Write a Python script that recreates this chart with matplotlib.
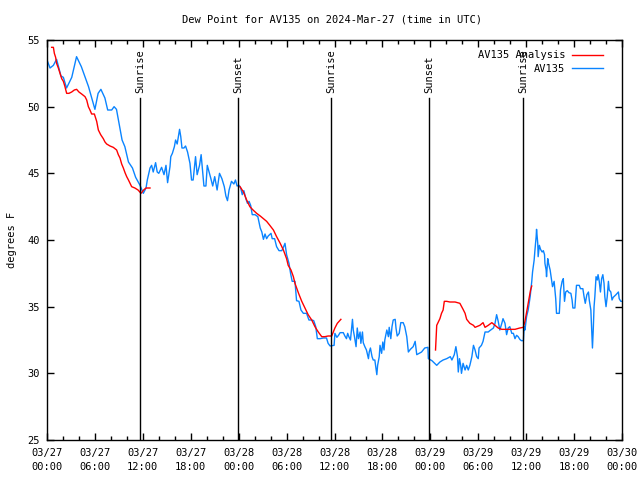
import numpy as np
import pandas as pd
import matplotlib
matplotlib.use('Agg')
import matplotlib.pyplot as plt
import matplotlib.dates as mdates

plt.rcParams['font.family'] = ['DejaVu Sans Mono']

# --- data (hours after 2024-03-27 00:00 UTC, dew point in F) ---
start = pd.Timestamp('2024-03-27 00:00')

obs_hours = [0.0, 0.38, 0.8, 1.2, 1.75, 2.05, 2.45, 3.1, 3.7, 4.3, 4.75, 5.2, 5.6, 6.0, 6.4, 6.75,
             7.25, 7.6, 8.1, 8.4, 8.7, 9.0, 9.4, 9.75, 10.2, 10.7, 11.1, 11.65, 12.06, 12.4, 12.56,
             12.9, 13.1, 13.3, 13.6, 13.8, 14.0, 14.35, 14.65, 14.9, 15.1, 15.4, 15.5, 15.7, 15.95,
             16.1, 16.3, 16.6, 16.75, 16.9, 17.15, 17.35, 17.6, 17.9, 18.1, 18.3, 18.6, 18.8, 19.1,
             19.3, 19.5, 19.65, 19.9, 20.07, 20.3, 20.5, 20.75, 21.0, 21.3, 21.6, 21.9, 22.2, 22.4,
             22.6, 22.8, 23.1, 23.4, 23.6, 23.8, 24.05, 24.25, 24.45, 24.65, 24.9, 25.1, 25.3, 25.5,
             25.7, 26.05, 26.4, 26.7, 26.9, 27.1, 27.3, 27.5, 27.7, 28.05, 28.2, 28.5, 28.75, 29.05,
             29.4, 29.6, 29.8, 30.0, 30.3, 30.5, 30.7, 31.05, 31.25, 31.55, 31.8, 32.1, 32.5, 32.8,
             33.15, 33.4, 33.65, 33.85, 34.2, 34.6, 35.0, 35.2, 35.45, 35.95, 36.05, 36.3, 36.5,
             36.7, 37.1, 37.3, 37.5, 37.65, 37.8, 38.0, 38.25, 38.35, 38.5, 38.7, 38.85, 39.0, 39.2,
             39.3, 39.5, 39.6, 39.8, 40.0, 40.25, 40.35, 40.5, 40.7, 40.85, 41.05, 41.3, 41.4, 41.6,
             41.7, 41.9, 42.05, 42.2, 42.3, 42.55, 42.75, 42.85, 43.05, 43.2, 43.35, 43.6, 43.7,
             43.85, 44.1, 44.3, 44.6, 44.8, 45.05, 45.25, 45.5, 45.85, 46.1, 46.3, 46.6, 46.9, 47.3,
             47.7, 47.75, 48.2, 48.8, 49.2, 49.6, 50.05, 50.5, 50.7, 51.0, 51.2, 51.4, 51.5, 51.65,
             51.8, 51.9, 52.1, 52.35, 52.55, 52.75, 52.95, 53.2, 53.4, 53.6, 53.8, 54.0, 54.1, 54.4,
             54.6, 54.85, 55.25, 55.45, 55.9, 56.1, 56.3, 56.5, 56.7, 56.95, 57.1, 57.35, 57.55,
             57.75, 57.95, 58.2, 58.4, 58.6, 58.8, 59.0, 59.2, 59.4, 59.65, 59.75, 59.85, 60.05,
             60.25, 60.5, 60.7, 60.8, 61.0, 61.1, 61.25, 61.3, 61.45, 61.5, 61.65, 61.8, 62.0, 62.15,
             62.3, 62.35, 62.5, 62.55, 62.7, 62.8, 63.0, 63.2, 63.3, 63.5, 63.7, 63.8, 64.15, 64.3,
             64.5, 64.65, 64.8, 64.95, 65.15, 65.35, 65.6, 65.75, 65.85, 66.1, 66.3, 66.65, 66.8,
             67.1, 67.25, 67.4, 67.6, 67.8, 67.9, 68.1, 68.2, 68.3, 68.4, 68.5, 68.6, 68.75, 68.9,
             69.0, 69.15, 69.3, 69.45, 69.6, 69.75, 69.85, 70.0, 70.15, 70.3, 70.4, 70.6, 70.75,
             70.9, 71.25, 71.55, 71.65, 71.85, 72.0]
obs_vals = [53.5, 52.9, 53.1, 53.55, 52.3, 52.2, 51.4, 52.2, 53.75, 53.0, 52.25, 51.5, 50.65, 49.8,
            51.0, 51.3, 50.65, 49.75, 49.75, 50.0, 49.8, 48.8, 47.5, 47.0, 45.85, 45.4, 44.7, 44.1,
            43.5, 43.9, 44.5, 45.4, 45.6, 45.1, 45.8, 45.1, 45.0, 45.45, 44.9, 45.6, 44.3, 45.5,
            46.25, 46.5, 47.0, 47.5, 47.2, 48.3, 47.75, 46.9, 46.9, 47.05, 46.6, 45.75, 44.5, 44.5,
            46.25, 44.9, 45.6, 46.4, 45.1, 44.05, 44.05, 45.6, 45.1, 44.65, 44.05, 44.75, 43.75,
            45.0, 44.6, 44.0, 43.3, 42.95, 43.75, 44.4, 44.2, 44.5, 44.05, 44.1, 43.9, 43.4, 43.7,
            43.1, 42.75, 42.9, 42.6, 41.9, 41.9, 41.75, 40.9, 40.6, 40.05, 40.45, 40.1, 40.3, 40.5,
            40.1, 40.1, 39.5, 39.2, 39.2, 39.45, 39.75, 38.9, 38.25, 37.5, 36.9, 36.9, 35.45, 35.4,
            34.75, 34.5, 34.5, 34.0, 34.0, 33.95, 33.5, 32.6, 32.6, 32.65, 32.65, 32.25, 32.05,
            32.1, 33.0, 32.7, 32.85, 33.05, 33.05, 32.8, 32.6, 33.0, 32.75, 32.5, 34.05, 33.25,
            32.75, 32.0, 33.4, 32.6, 33.1, 32.25, 33.1, 32.3, 32.0, 31.75, 31.1, 31.6, 31.9, 31.25,
            31.0, 31.0, 29.9, 30.6, 31.25, 32.1, 31.5, 32.35, 31.75, 32.5, 33.25, 32.75, 33.45,
            32.6, 33.5, 34.0, 34.05, 33.4, 32.8, 33.0, 33.8, 33.8, 33.5, 32.75, 31.6, 31.8, 32.0,
            32.4, 31.4, 31.5, 31.6, 31.9, 31.95, 31.1, 30.95, 30.6, 30.85, 31.0, 31.1, 31.25, 31.0,
            31.4, 32.0, 31.25, 30.1, 31.1, 30.6, 30.0, 30.75, 30.25, 30.6, 30.25, 30.6, 31.25, 32.1,
            31.75, 31.25, 31.1, 31.9, 32.1, 32.4, 33.1, 33.1, 33.2, 33.4, 33.75, 34.4, 33.9, 33.25,
            33.75, 34.1, 33.75, 32.9, 33.4, 33.5, 33.0, 33.0, 32.6, 32.85, 32.75, 32.55, 32.45,
            32.45, 33.5, 33.25, 34.25, 34.75, 35.75, 36.9, 37.6, 38.5, 39.25, 40.25, 40.8, 39.75,
            38.75, 39.6, 39.3, 39.1, 39.2, 38.9, 38.25, 37.75, 37.25, 38.6, 38.25, 37.75, 36.9, 36.5,
            36.9, 35.6, 34.5, 34.5, 36.25, 36.9, 37.1, 35.4, 36.1, 36.2, 36.05, 36.0, 35.5, 34.9,
            34.9, 36.6, 36.6, 36.35, 36.35, 35.75, 35.25, 35.9, 36.1, 35.5, 34.75, 33.25, 31.9,
            33.25, 35.0, 35.75, 37.25, 37.0, 37.4, 36.9, 36.1, 37.1, 37.4, 36.75, 35.75, 35.0, 35.75,
            36.9, 36.25, 36.1, 35.5, 35.7, 35.9, 36.1, 35.6, 35.4, 35.4]

# analysis runs (three separate pieces)
ana1_hours = [0.58, 0.8, 0.92, 1.08, 1.2, 1.42, 1.63, 1.84, 2.05, 2.25, 2.46, 2.75, 3.09, 3.42,
              3.71, 4.0, 4.34, 4.76, 4.97, 5.18, 5.38, 5.59, 5.93, 6.22, 6.43, 6.72, 7.05, 7.26,
              7.47, 7.89, 8.3, 8.72, 8.93, 9.14, 9.35, 9.56, 9.77, 9.98, 10.2, 10.4, 10.6, 11.0,
              11.4, 11.77, 12.1, 12.4, 12.9]
ana1_vals = [54.45, 54.45, 54.0, 53.7, 53.25, 52.9, 52.5, 52.1, 51.9, 51.5, 51.0, 51.0, 51.1,
             51.25, 51.3, 51.1, 50.95, 50.75, 50.5, 50.0, 49.75, 49.45, 49.45, 48.9, 48.25, 47.9,
             47.6, 47.35, 47.2, 47.05, 46.95, 46.75, 46.4, 46.15, 45.7, 45.4, 45.05, 44.75, 44.5,
             44.25, 44.0, 43.9, 43.75, 43.5, 43.75, 43.9, 43.9]
ana2_hours = [24.17, 24.6, 25.0, 25.4, 25.8, 26.25, 26.7, 27.1, 27.5, 27.9, 28.35, 28.75, 29.2,
              29.6, 30.0, 30.2, 30.55, 30.85, 31.05, 31.5, 31.9, 32.3, 32.7, 33.15, 33.55, 33.97,
              34.4, 34.8, 35.2, 35.65, 35.85, 36.05, 36.35, 36.8]
ana2_vals = [44.0, 43.6, 43.0, 42.5, 42.25, 42.0, 41.8, 41.6, 41.4, 41.1, 40.75, 40.25, 39.75,
             39.25, 38.6, 38.1, 37.75, 37.25, 36.75, 36.0, 35.4, 34.9, 34.4, 34.0, 33.5, 33.1,
             32.75, 32.75, 32.8, 32.8, 33.1, 33.4, 33.75, 34.05]
ana3_hours = [48.65, 48.8, 49.0, 49.2, 49.4, 49.6, 49.75, 50.05, 50.45, 51.1, 51.7, 52.1, 52.35,
              52.55, 52.95, 53.4, 53.6, 54.0, 54.2, 54.6, 54.85, 55.25, 55.7, 56.1, 56.5, 56.95,
              57.35, 58.0, 58.6, 59.2, 59.65, 59.85, 60.0, 60.15, 60.4, 60.55, 60.7]
ana3_vals = [31.75, 33.6, 33.85, 34.1, 34.5, 34.75, 35.4, 35.4, 35.35, 35.35, 35.25, 34.8, 34.5,
             34.05, 33.75, 33.6, 33.45, 33.55, 33.6, 33.8, 33.45, 33.6, 33.8, 33.6, 33.4, 33.3,
             33.3, 33.3, 33.3, 33.4, 33.45, 33.9, 34.4, 34.9, 35.75, 36.25, 36.55]

sun_hours = [11.65, 23.95, 35.6, 47.87, 59.64]
sun_labels = ['Sunrise', 'Sunset', 'Sunrise', 'Sunset', 'Sunrise']


def to_time(hours):
    return start + pd.to_timedelta(np.asarray(hours), unit='h')


fig = plt.figure(figsize=(6.4, 4.8), dpi=100)
ax = fig.add_axes([47 / 640, 40 / 480, 575 / 640, 400 / 480])

red = '#ff0000'
blue = '#0a84ff'
ax.plot(to_time(ana1_hours), ana1_vals, color=red, lw=1, label='AV135 Analysis', zorder=3)
ax.plot(to_time(ana2_hours), ana2_vals, color=red, lw=1, zorder=3)
ax.plot(to_time(ana3_hours), ana3_vals, color=red, lw=1, zorder=3)
ax.plot(to_time(obs_hours), obs_vals, color=blue, lw=1, label='AV135', zorder=2)

for h, lab in zip(sun_hours, sun_labels):
    t = start + pd.Timedelta(hours=h)
    ax.axvline(t, ymin=0, ymax=0.855, color='black', lw=1, zorder=4)
    ax.text(t, 0.867, lab, transform=ax.get_xaxis_transform(), rotation=90,
            ha='center', va='bottom', fontsize=7.5)

ax.set_xlim(start, start + pd.Timedelta(hours=72))
ax.set_ylim(25, 55)
ax.set_yticks(np.arange(25, 56, 5))

ax.xaxis.set_major_locator(mdates.HourLocator(byhour=[0, 6, 12, 18]))
ax.xaxis.set_minor_locator(mdates.HourLocator(byhour=range(0, 24, 2)))
ax.xaxis.set_major_formatter(mdates.DateFormatter('%m/%d\n%H:%M'))
ax.tick_params(which='both', direction='in', top=True, right=True, labelsize=7.5, width=1)
ax.tick_params(which='major', length=5)
ax.tick_params(which='minor', length=3)
ax.tick_params(axis='x', pad=6)
ax.tick_params(axis='y', pad=5)
for lab in ax.get_xticklabels():
    lab.set_linespacing(1.45)
for s in ax.spines.values():
    s.set_linewidth(1)

leg = ax.legend(loc='upper right', frameon=False, markerfirst=False, fontsize=7.5,
                handlelength=3.0, borderaxespad=0.6, labelspacing=0.35, handletextpad=0.6,
                bbox_to_anchor=(0.985, 1.0))

fig.text(332 / 640, 1 - 20 / 480, 'Dew Point for AV135 on 2024-Mar-27 (time in UTC)',
         ha='center', va='center', fontsize=7.5)
fig.text(12 / 640, 0.5, 'degrees F', rotation=90, ha='center', va='center', fontsize=7.5)

fig.savefig('out.png', dpi=100)
